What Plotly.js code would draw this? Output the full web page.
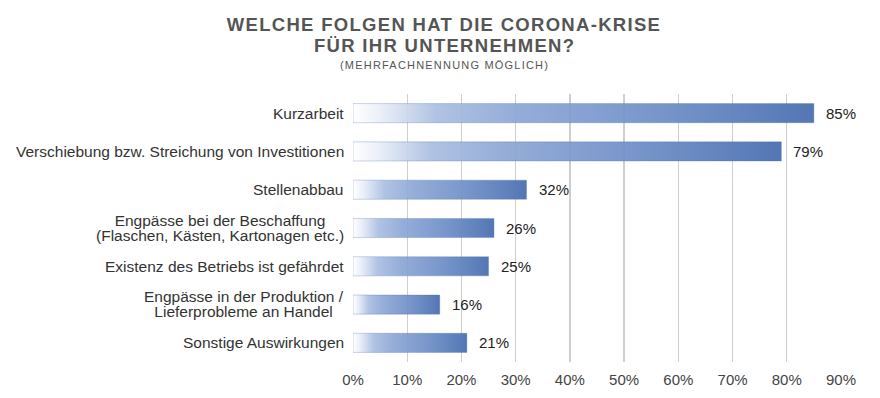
<!DOCTYPE html>
<html>
<head>
<meta charset="utf-8">
<script src="https://cdn.plot.ly/plotly-3.0.1.min.js"></script>
<style>
  html, body { margin: 0; padding: 0; background: #fff; }
  #chart { width: 880px; height: 398px; }
  .gtitle { letter-spacing: 1.3px; }
</style>
</head>
<body>
<div id="chart"></div>
<script>
const titleLine1 = "WELCHE FOLGEN HAT DIE CORONA-KRISE";
const titleLine2 = "FÜR IHR UNTERNEHMEN?";
const subtitle = "(MEHRFACHNENNUNG MÖGLICH)";

const categories = [
  "Kurzarbeit",
  "Verschiebung bzw. Streichung von Investitionen",
  "Stellenabbau",
  "Engpässe bei der Beschaffung<br>(Flaschen, Kästen, Kartonagen etc.)",
  "Existenz des Betriebs ist gefährdet",
  "Engpässe in der Produktion /<br>Lieferprobleme an Handel",
  "Sonstige Auswirkungen"
];
const values = [85, 79, 32, 26, 25, 16, 21];
const xTickVals = [0, 10, 20, 30, 40, 50, 60, 70, 80, 90];
const xTickText = ["0%", "10%", "20%", "30%", "40%", "50%", "60%", "70%", "80%", "90%"];

const FONT = "Liberation Sans, Arial, Helvetica, sans-serif";
const half = 0.25;
const gradient = [
  [0, "rgba(255,255,255,0.95)"],
  [0.06, "rgba(232,238,248,0.92)"],
  [0.18, "rgba(170,190,225,0.92)"],
  [0.35, "rgba(140,166,213,0.92)"],
  [0.65, "rgba(112,144,200,0.94)"],
  [1, "rgba(78,114,178,0.97)"]
];

const traces = values.map((v, i) => ({
  type: "scatter",
  mode: "lines",
  x: [0, v, v, 0, 0],
  y: [i - half, i - half, i + half, i + half, i - half],
  fill: "toself",
  fillgradient: { type: "horizontal", colorscale: gradient },
  line: { color: "rgba(70,105,165,0.35)", width: 0.8 },
  hoverinfo: "skip",
  showlegend: false
}));

const W = 880, H = 398, mL = 353, mR = 39, mT = 94, mB = 36;
const plotW = W - mL - mR, plotH = H - mT - mB;
const centerX = (444 - mL) / plotW;

const annotations = [];
categories.forEach((c, i) => {
  annotations.push({
    xref: "paper", yref: "y", x: 0, y: i,
    xanchor: "right", yanchor: "middle", xshift: -7,
    text: c, align: "center", showarrow: false,
    font: { family: FONT, size: 15.5, color: "#333" }
  });
});
values.forEach((v, i) => {
  annotations.push({
    xref: "x", yref: "y", x: v, y: i,
    xanchor: "left", yanchor: "middle", xshift: 10,
    text: v + "%", showarrow: false,
    font: { family: FONT, size: 15, color: "#222" }
  });
});
annotations.push({
  xref: "paper", yref: "paper", x: centerX, y: 1 + (mT - 45.5) / plotH,
  xanchor: "center", yanchor: "middle",
  text: titleLine2, showarrow: false,
  font: { family: FONT, size: 18.5, color: "#555", weight: "bold" }
});
annotations.push({
  xref: "paper", yref: "paper", x: centerX, y: 1 + (mT - 64.5) / plotH,
  xanchor: "center", yanchor: "middle",
  text: subtitle, showarrow: false,
  font: { family: FONT, size: 11, color: "#555" }
});

const layout = {
  width: W, height: H,
  margin: { l: mL, r: mR, t: mT, b: mB },
  paper_bgcolor: "#fff", plot_bgcolor: "#fff",
  title: {
    text: titleLine1,
    x: 444 / W, xanchor: "center",
    y: 1 - 24.5 / H, yanchor: "middle", yref: "container",
    font: { family: FONT, size: 18.5, color: "#555", weight: "bold" }
  },
  xaxis: {
    range: [0, 90], tickvals: xTickVals, ticktext: xTickText,
    showgrid: true, gridcolor: "#cfcfcf", gridwidth: 1.3,
    zeroline: false, showline: false, ticks: "",
    ticklabelstandoff: 7,
    tickfont: { family: FONT, size: 15, color: "#444" },
    fixedrange: true
  },
  yaxis: {
    range: [categories.length - 0.5, -0.5],
    showgrid: false, zeroline: false, showline: false,
    showticklabels: false, ticks: "", fixedrange: true
  },
  annotations: annotations,
  showlegend: false
};

Plotly.newPlot("chart", traces, layout, { displayModeBar: false, staticPlot: true }).then(() => {
  document.querySelectorAll(".annotation-text").forEach(el => {
    const t = el.textContent;
    if (t === titleLine2) el.style.letterSpacing = "1.3px";
    if (t === subtitle) el.style.letterSpacing = "1.2px";
    const lines = el.querySelectorAll("tspan.line");
    if (lines.length === 2) {
      // tighter line spacing as in the reference
      lines[0].setAttribute("dy", "0.1em");
      lines[1].setAttribute("dy", "1.1em");
    }
  });
});
</script>
</body>
</html>
